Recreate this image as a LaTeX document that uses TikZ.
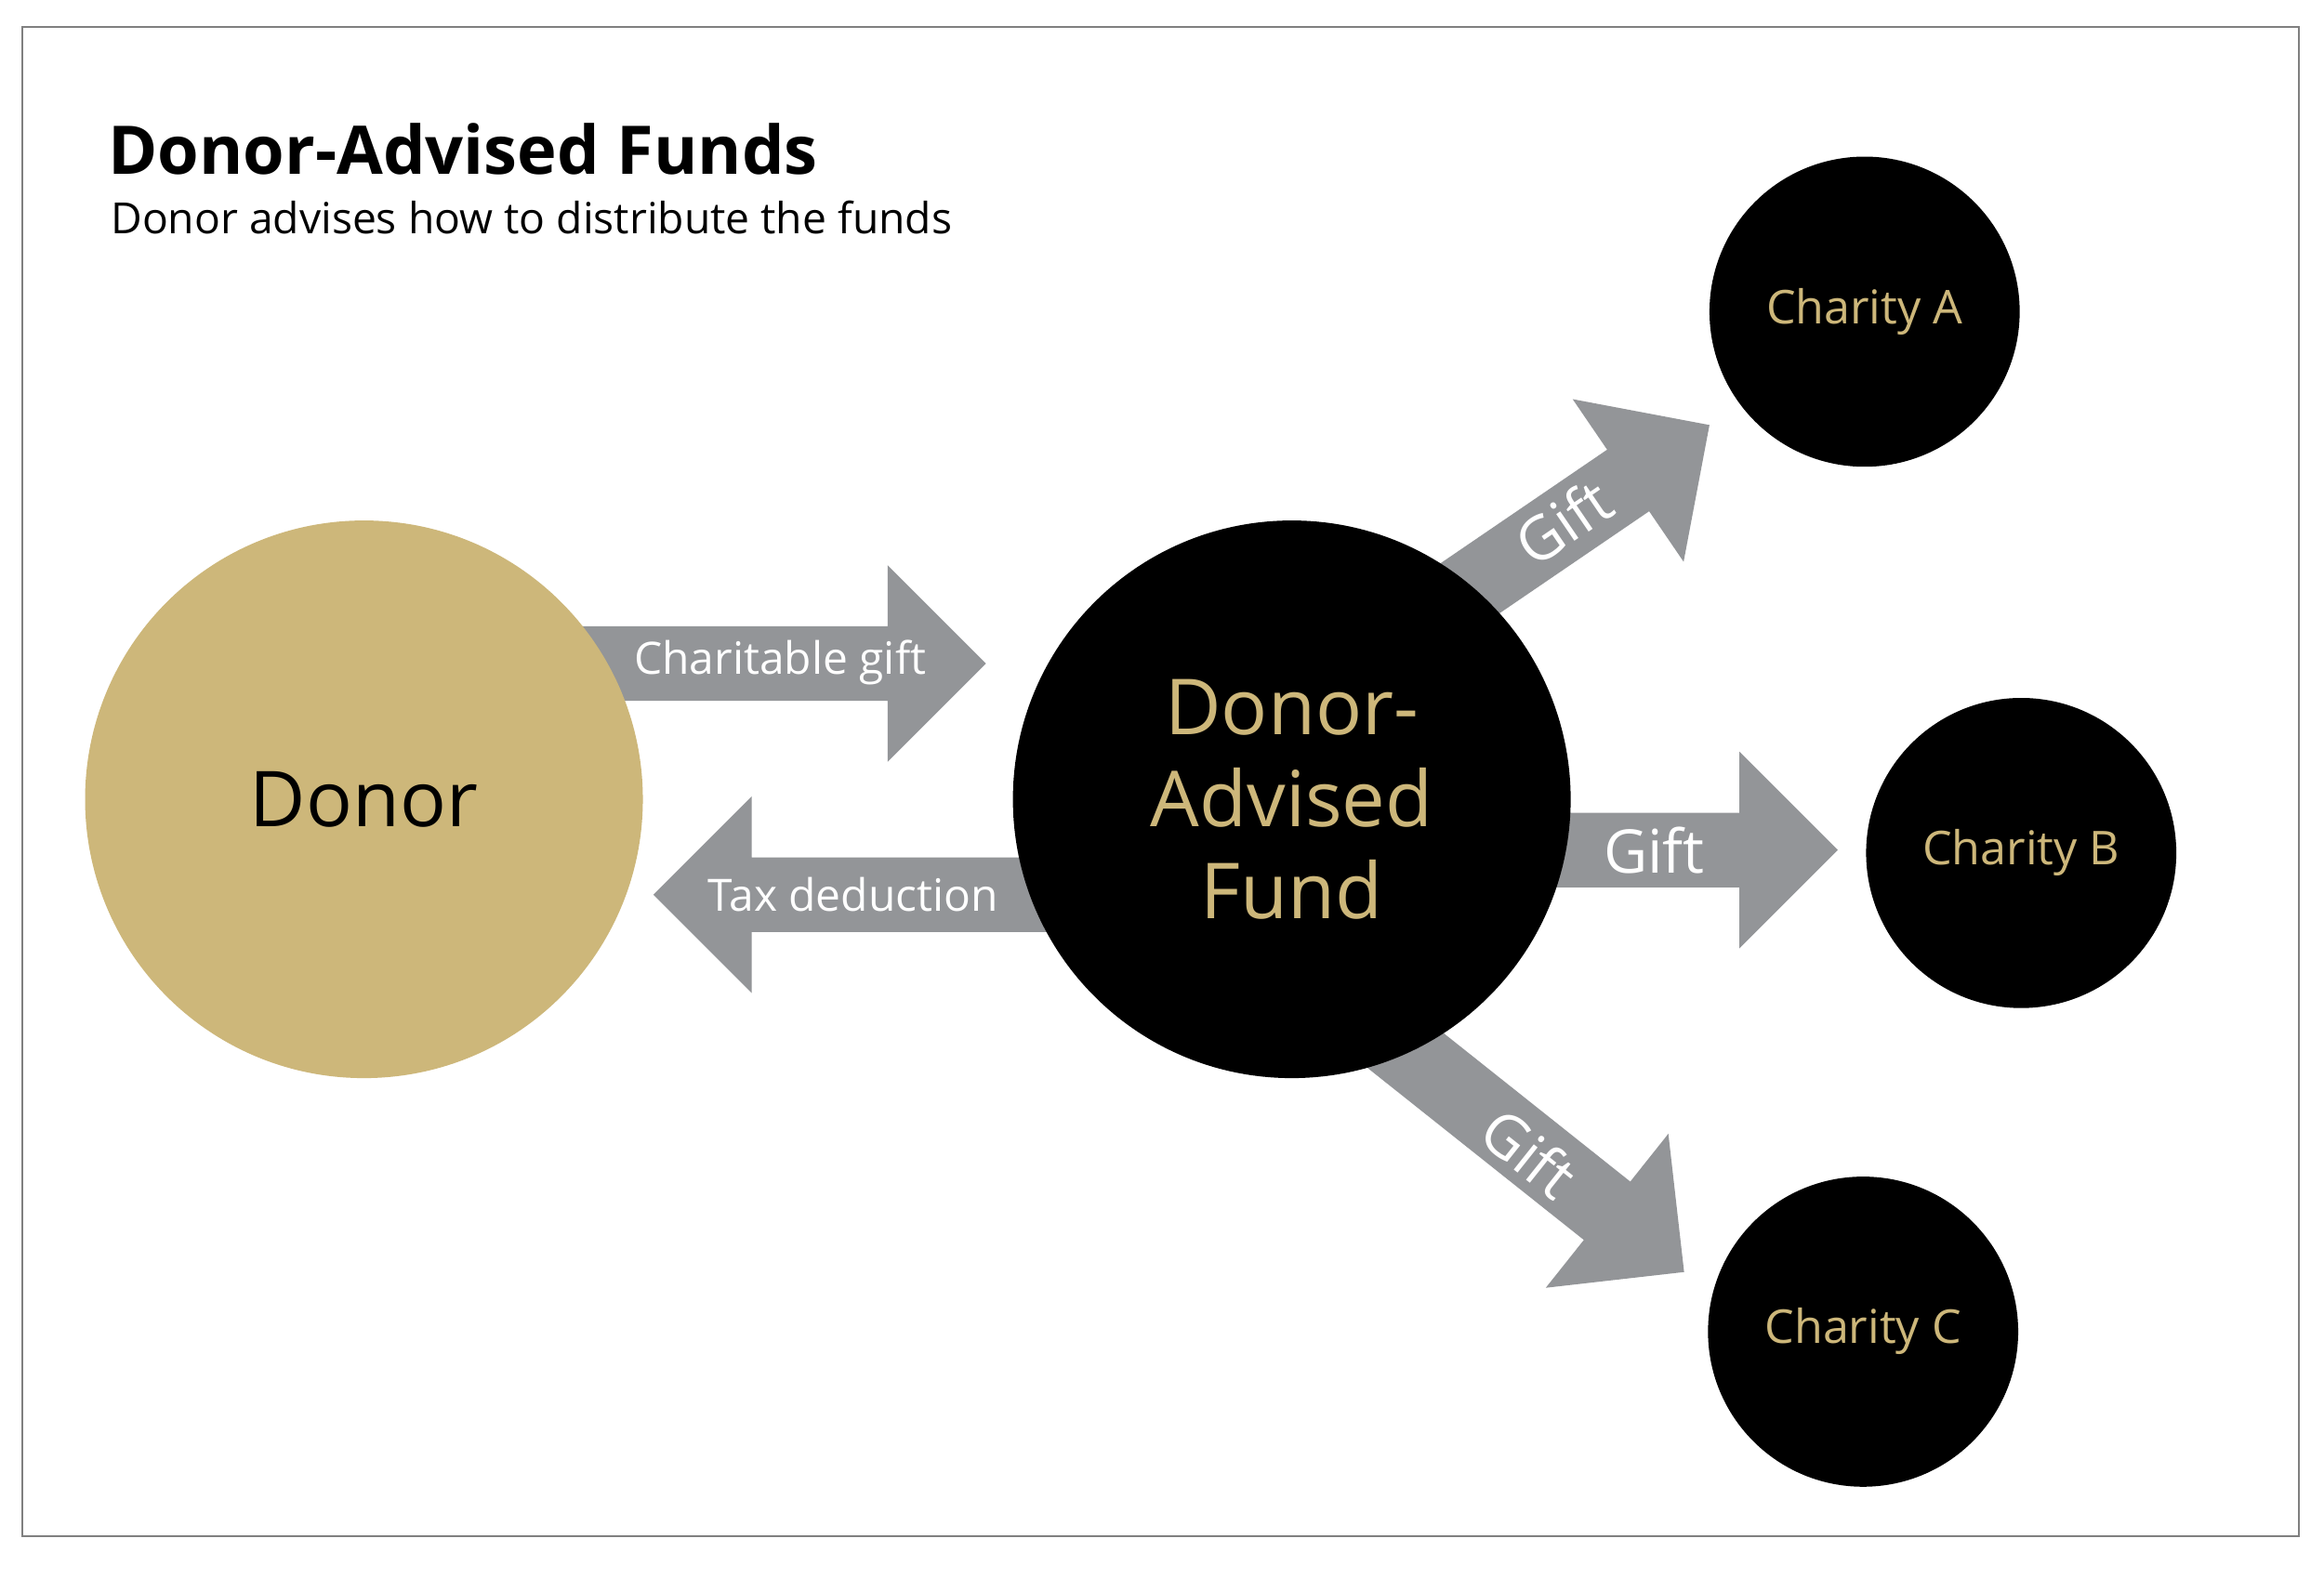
\documentclass[tikz,border=0pt]{standalone}
\usepackage{fontspec}
\setmainfont{Open Sans}
\definecolor{gold}{HTML}{CDB77A}
\definecolor{goldtxt}{HTML}{CDB77A}
\definecolor{arrowgray}{HTML}{939598}
\tikzset{
  bigcirc/.style={circle, fill=black, minimum size=7.48cm, inner sep=0pt, text=goldtxt, align=center, font=\fontsize{29.5}{35}\selectfont},
  smallcirc/.style={circle, fill=black, minimum size=4.16cm, inner sep=0pt, text=goldtxt, font=\fontsize{17.8}{22}\selectfont},
  arrlabel/.style={text=white, font=\fontsize{17}{20}\selectfont, inner sep=0pt},
  giftlabel/.style={text=white, font=\fontsize{23}{28}\selectfont, inner sep=0pt},
}
% #1 tip, #2 angle, #3 total length (cm)
\newcommand{\fatarr}[3]{%
  \begin{scope}[shift={#1}, rotate=#2]
    \fill[arrowgray] (0,0) -- (-1.32cm,1.32cm) -- (-1.32cm,0.5cm) -- (-#3,0.5cm) -- (-#3,-0.5cm) -- (-1.32cm,-0.5cm) -- (-1.32cm,-1.32cm) -- cycle;
  \end{scope}}
\begin{document}
\begin{tikzpicture}[x=0.02cm,y=-0.02cm]
\useasboundingbox (0,0) rectangle (1558,1058);
\fill[white] (0,0) rectangle (1558,1058);
\draw[gray, line width=0.6pt] (15,18) rectangle (1541,1030);
\node[anchor=base west, inner sep=0pt, font=\fontsize{25.6}{30}\selectfont\bfseries] (title) at (72,117) {Donor-Advised Funds};
\node[anchor=base west, inner sep=0pt, font=\fontsize{16.4}{20}\selectfont] (sub) at (74,157) {Donor advises how to distribute the funds};

\fatarr{(661,445)}{0}{5.6cm}
\fatarr{(438,600)}{180}{5.7cm}
\fatarr{(1232,570)}{0}{4.8cm}
\fatarr{(1146,285)}{34.3}{6cm}
\fatarr{(1129,853)}{-38.5}{6cm}

\node[circle, fill=gold, minimum size=7.48cm, inner sep=0pt, font=\fontsize{29.4}{35}\selectfont] (donor) at (244,536) {Donor};
\node[bigcirc] (daf) at (866,536) {Donor-\\Advised\\Fund};
\node[smallcirc] (ca) at (1250,209) {Charity A};
\node[smallcirc] (cb) at (1355,572) {Charity B};
\node[smallcirc] (cc) at (1249,893) {Charity C};

\node[arrlabel] (lg) at (523,444) {Charitable gift};
\node[arrlabel] (lt) at (572,600) {Tax deduction};
\node[giftlabel] (lb) at (1109,570) {Gift};
\node[giftlabel, rotate=34.3] (la) at (1048,350) {Gift};
\node[giftlabel, rotate=-38.5] (lc) at (1025,773) {Gift};
\end{tikzpicture}
\end{document}
